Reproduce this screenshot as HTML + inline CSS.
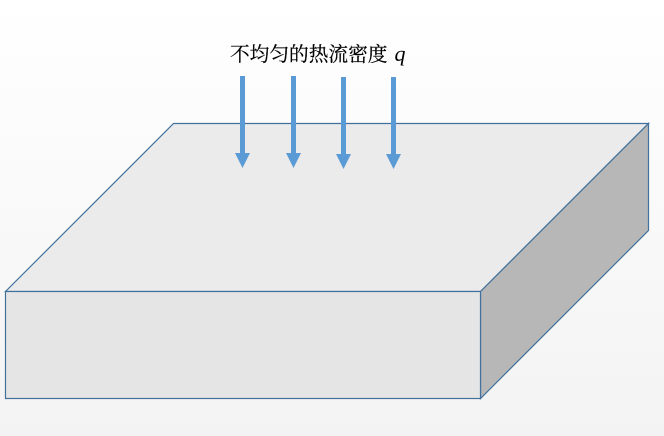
<!DOCTYPE html>
<html>
<head>
<meta charset="utf-8">
<style>
html,body{margin:0;padding:0;width:664px;height:436px;overflow:hidden;background:#fff}
svg{display:block}
</style>
</head>
<body>
<svg width="664" height="436" viewBox="0 0 664 436" xmlns="http://www.w3.org/2000/svg">
<defs>
<linearGradient id="bg" x1="0" y1="0" x2="0" y2="1">
<stop offset="0" stop-color="#ffffff"/>
<stop offset="1" stop-color="#f3f3f3"/>
</linearGradient>
</defs>
<rect width="664" height="436" fill="url(#bg)"/>
<g stroke="#41719c" stroke-width="1.2" stroke-linejoin="miter">
<polygon points="173.500,123.500 648.500,123.500 480.500,291.500 5.500,291.500" fill="#ebebeb"/>
<polygon points="648.500,123.500 648.500,230.500 480.500,398.500 480.500,291.500" fill="#b7b7b7"/>
<rect x="5.500" y="291.500" width="475" height="107" fill="#e5e5e5"/>
</g>
<g fill="#5b9bd5">
<polygon points="240,76 245,76 245,153 250,153 242.500,168 235,153 240,153"/>
<polygon points="291,76 296,76 296,153 301,153 293.500,168 286,153 291,153"/>
<polygon points="341,77 346,77 346,154 351,154 343.500,169 336,154 341,154"/>
<polygon points="391,77 396,77 396,154 401,154 393.500,169 386,154 391,154"/>
</g>
<text x="230" y="61" font-size="19.700" fill="#000" stroke="#000" stroke-width="0.2" font-family="'Noto Serif CJK SC','Liberation Serif',serif">不均匀的热流密度</text>
<text x="394.500" y="61" font-size="22" fill="#000" font-style="italic" font-family="'Liberation Serif',serif">q</text>
</svg>
</body>
</html>
